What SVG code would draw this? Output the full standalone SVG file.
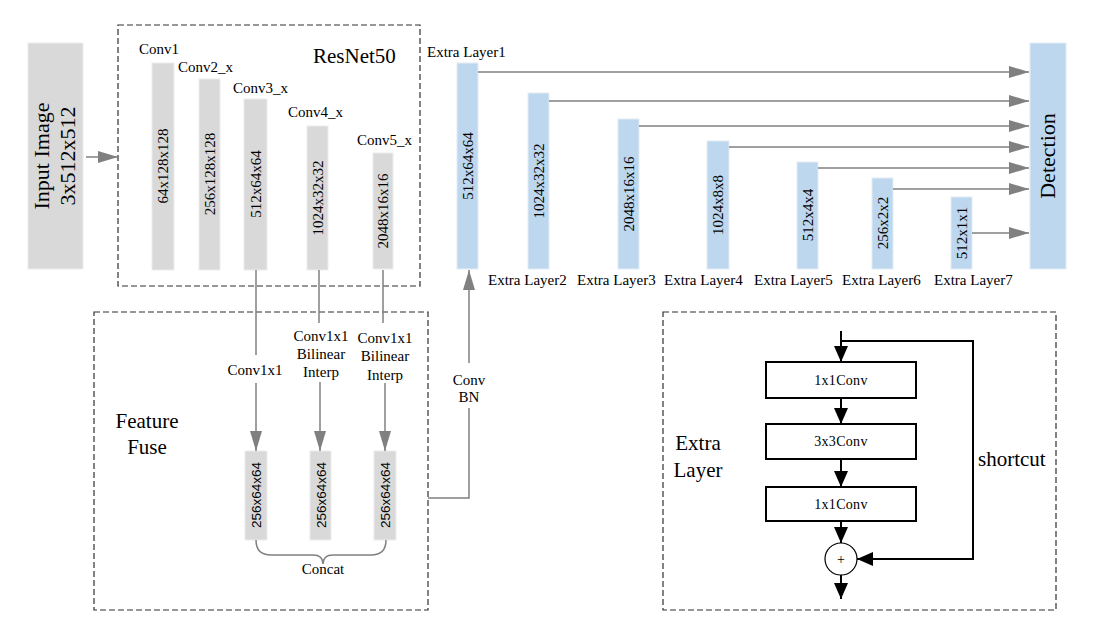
<svg xmlns="http://www.w3.org/2000/svg" width="1106" height="639" viewBox="0 0 1106 639">
<style>
.t{font-family:"Liberation Serif","Times New Roman",serif;fill:#000}
.s{font-family:"Liberation Sans",Arial,sans-serif;fill:#000}
.g{fill:#d9d9d9;stroke:#ececec;stroke-width:1}
.b{fill:#bdd7ee;stroke:#e3ecf5;stroke-width:1}
.dash{fill:none;stroke:#303030;stroke-width:1.2;stroke-dasharray:6,3}
.ln{fill:none;stroke:#808080;stroke-width:1.5}
.bk{fill:none;stroke:#000;stroke-width:2}
.box{fill:#fff;stroke:#000;stroke-width:2}
</style>
<defs>
<marker id="ga" markerUnits="userSpaceOnUse" markerWidth="20" markerHeight="12" refX="20" refY="6" orient="auto"><path d="M0,0 L20,6 L0,12 z" fill="#808080"/></marker>
<marker id="ba" markerUnits="userSpaceOnUse" markerWidth="16" markerHeight="14" refX="16" refY="7" orient="auto"><path d="M0,0 L16,7 L0,14 z" fill="#000"/></marker>
</defs>
<rect width="1106" height="639" fill="#fff"/>

<g id="input">
<rect class="g" x="28" y="43" width="55" height="226"/>
<text class="t" font-size="22" text-anchor="middle" transform="translate(49,156) rotate(-90)">Input Image</text>
<text class="t" font-size="22" text-anchor="middle" transform="translate(75,156) rotate(-90)">3x512x512</text>
</g>

<g id="resnet50">
<rect class="dash" x="118" y="25" width="302" height="261"/>
<text class="t" font-size="21" x="313" y="63">ResNet50</text>
</g>
<g id="conv1">
<text class="t" font-size="15" x="139" y="54">Conv1</text>
<rect class="g" x="152" y="63" width="22" height="207"/>
<text class="t" font-size="15" text-anchor="middle" transform="translate(168,166) rotate(-90)">64x128x128</text>
</g>
<g id="conv2">
<text class="t" font-size="15" x="178" y="72">Conv2_x</text>
<rect class="g" x="199" y="79" width="21" height="191"/>
<text class="t" font-size="15" text-anchor="middle" transform="translate(215,174) rotate(-90)">256x128x128</text>
</g>
<g id="conv3">
<text class="t" font-size="15" x="233" y="93">Conv3_x</text>
<rect class="g" x="244" y="99" width="23" height="171"/>
<text class="t" font-size="15" text-anchor="middle" transform="translate(261,184) rotate(-90)">512x64x64</text>
</g>
<g id="conv4">
<text class="t" font-size="15" x="288" y="117">Conv4_x</text>
<rect class="g" x="307" y="126" width="21" height="144"/>
<text class="t" font-size="15" text-anchor="middle" transform="translate(323,198) rotate(-90)">1024x32x32</text>
</g>
<g id="conv5">
<text class="t" font-size="15" x="357" y="145">Conv5_x</text>
<rect class="g" x="373" y="153" width="20" height="116"/>
<text class="t" font-size="15" text-anchor="middle" transform="translate(388,211) rotate(-90)">2048x16x16</text>
</g>

<g id="extra1">
<text class="t" font-size="15" x="427" y="57">Extra Layer1</text>
<rect class="b" x="457" y="63" width="21" height="206"/>
<text class="t" font-size="15" text-anchor="middle" transform="translate(473,166) rotate(-90)">512x64x64</text>
</g>
<g id="extra2">
<rect class="b" x="528" y="93" width="21" height="176"/>
<text class="t" font-size="15" text-anchor="middle" transform="translate(544,181) rotate(-90)">1024x32x32</text>
<text class="t" font-size="15" x="488" y="285">Extra Layer2</text>
</g>
<g id="extra3">
<rect class="b" x="618" y="119" width="21" height="150"/>
<text class="t" font-size="15" text-anchor="middle" transform="translate(634,194) rotate(-90)">2048x16x16</text>
<text class="t" font-size="15" x="577" y="285">Extra Layer3</text>
</g>
<g id="extra4">
<rect class="b" x="707" y="141" width="22" height="128"/>
<text class="t" font-size="15" text-anchor="middle" transform="translate(723,205) rotate(-90)">1024x8x8</text>
<text class="t" font-size="15" x="664" y="285">Extra Layer4</text>
</g>
<g id="extra5">
<rect class="b" x="797" y="162" width="21" height="107"/>
<text class="t" font-size="15" text-anchor="middle" transform="translate(813,215) rotate(-90)">512x4x4</text>
<text class="t" font-size="15" x="754" y="285">Extra Layer5</text>
</g>
<g id="extra6">
<rect class="b" x="872" y="178" width="21" height="91"/>
<text class="t" font-size="15" text-anchor="middle" transform="translate(888,223) rotate(-90)">256x2x2</text>
<text class="t" font-size="15" x="842" y="285">Extra Layer6</text>
</g>
<g id="extra7">
<rect class="b" x="951" y="197" width="21" height="72"/>
<text class="t" font-size="15" text-anchor="middle" transform="translate(967,233) rotate(-90)">512x1x1</text>
<text class="t" font-size="15" x="934" y="285">Extra Layer7</text>
</g>
<g id="detection">
<rect class="b" x="1030" y="43" width="36" height="226"/>
<text class="t" font-size="22" text-anchor="middle" transform="translate(1055,156) rotate(-90)">Detection</text>
</g>

<g id="featurefuse">
<rect class="dash" x="94" y="312" width="334" height="298"/>
<text class="t" font-size="21" text-anchor="middle" x="147" y="428">Feature</text>
<text class="t" font-size="21" text-anchor="middle" x="147" y="454">Fuse</text>
</g>
<g id="fuse1">
<rect class="g" x="245" y="451" width="22" height="89"/>
<text class="s" font-size="13.5" text-anchor="middle" transform="translate(261,495) rotate(-90)">256x64x64</text>
</g>
<g id="fuse2">
<rect class="g" x="310" y="451" width="21" height="89"/>
<text class="s" font-size="13.5" text-anchor="middle" transform="translate(326,495) rotate(-90)">256x64x64</text>
</g>
<g id="fuse3">
<rect class="g" x="374" y="451" width="22" height="89"/>
<text class="s" font-size="13.5" text-anchor="middle" transform="translate(390,495) rotate(-90)">256x64x64</text>
</g>

<g id="extralayer">
<rect class="dash" x="663" y="312" width="393" height="298"/>
<text class="t" font-size="21" text-anchor="middle" x="698" y="450">Extra</text>
<text class="t" font-size="21" text-anchor="middle" x="698" y="477">Layer</text>
<text class="t" font-size="21" x="978" y="466">shortcut</text>
</g>
<g id="el-conv1">
<rect class="box" x="766" y="362" width="150" height="36"/>
<text class="t" font-size="14" text-anchor="middle" x="841" y="385" letter-spacing="0.3">1x1Conv</text>
</g>
<g id="el-conv2">
<rect class="box" x="766" y="424" width="150" height="35"/>
<text class="t" font-size="14" text-anchor="middle" x="841" y="446" letter-spacing="0.3">3x3Conv</text>
</g>
<g id="el-conv3">
<rect class="box" x="766" y="487" width="150" height="34"/>
<text class="t" font-size="14" text-anchor="middle" x="841" y="509" letter-spacing="0.3">1x1Conv</text>
</g>
<g id="el-add">
<circle cx="841" cy="559" r="16" fill="#fff" stroke="#000" stroke-width="1.2"/>
<text class="t" font-size="14" text-anchor="middle" x="841" y="564">+</text>
</g>

<g id="connectors">
<line class="ln" x1="86" y1="157" x2="118" y2="157" marker-end="url(#ga)"/>
<line class="ln" x1="478" y1="72" x2="1029" y2="72" marker-end="url(#ga)"/>
<line class="ln" x1="549" y1="101" x2="1029" y2="101" marker-end="url(#ga)"/>
<line class="ln" x1="639" y1="126" x2="1029" y2="126" marker-end="url(#ga)"/>
<line class="ln" x1="729" y1="147" x2="1029" y2="147" marker-end="url(#ga)"/>
<line class="ln" x1="818" y1="168" x2="1029" y2="168" marker-end="url(#ga)"/>
<line class="ln" x1="893" y1="189" x2="1029" y2="189" marker-end="url(#ga)"/>
<line class="ln" x1="972" y1="233" x2="1029" y2="233" marker-end="url(#ga)"/>

<line class="ln" x1="256" y1="270" x2="256" y2="355"/>
<text class="t" font-size="15" text-anchor="middle" x="255" y="375">Conv1x1</text>
<line class="ln" x1="256" y1="383" x2="256" y2="451" marker-end="url(#ga)"/>

<line class="ln" x1="319" y1="270" x2="319" y2="323"/>
<text class="t" font-size="15" text-anchor="middle" x="321" y="341">Conv1x1</text>
<text class="t" font-size="15" text-anchor="middle" x="321" y="359">Bilinear</text>
<text class="t" font-size="15" text-anchor="middle" x="321" y="377">Interp</text>
<line class="ln" x1="320" y1="382" x2="320" y2="451" marker-end="url(#ga)"/>

<line class="ln" x1="383" y1="270" x2="383" y2="323"/>
<text class="t" font-size="15" text-anchor="middle" x="385" y="343">Conv1x1</text>
<text class="t" font-size="15" text-anchor="middle" x="385" y="361">Bilinear</text>
<text class="t" font-size="15" text-anchor="middle" x="385" y="380">Interp</text>
<line class="ln" x1="385" y1="383" x2="385" y2="451" marker-end="url(#ga)"/>

<path class="ln" d="M256,540 Q256,555 271,555 L313,555 Q323,555 323,564 Q323,555 333,555 L371,555 Q386,555 386,540"/>
<text class="t" font-size="15" text-anchor="middle" x="323" y="574">Concat</text>

<polyline class="ln" points="428,498 469,498 469,408"/>
<text class="t" font-size="15" text-anchor="middle" x="469" y="385">Conv</text>
<text class="t" font-size="15" text-anchor="middle" x="469" y="402">BN</text>
<line class="ln" x1="469" y1="363" x2="469" y2="270" marker-end="url(#ga)"/>

<line class="bk" x1="841" y1="331" x2="841" y2="362" marker-end="url(#ba)"/>
<polyline class="bk" points="841,341 973,341 973,559 857,559" marker-end="url(#ba)"/>
<line class="bk" x1="841" y1="398" x2="841" y2="424" marker-end="url(#ba)"/>
<line class="bk" x1="841" y1="459" x2="841" y2="487" marker-end="url(#ba)"/>
<line class="bk" x1="841" y1="521" x2="841" y2="543" marker-end="url(#ba)"/>
<line class="bk" x1="841" y1="575" x2="841" y2="599" marker-end="url(#ba)"/>
</g>
</svg>
